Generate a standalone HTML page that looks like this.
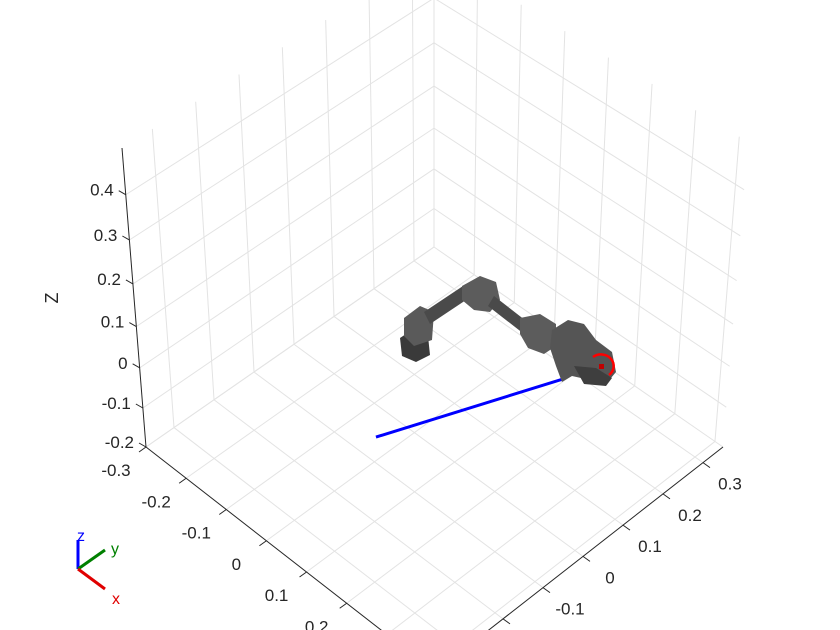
<!DOCTYPE html>
<html><head><meta charset="utf-8"><style>
html,body{margin:0;padding:0;background:#fff;width:840px;height:630px;overflow:hidden;}
svg{display:block;font-family:"Liberation Sans",Arial,sans-serif;overflow:hidden;}
</style></head><body>
<svg id="chart" width="840" height="630" viewBox="0 0 840 630" xmlns="http://www.w3.org/2000/svg">
<g id="grid"></g>
<g id="axes"></g>
<g id="traj"></g>
<g id="robot">
  <path d="M400 338 L412 330 L428 336 L430 355 L416 362 L402 356 Z" fill="#3a3a3a"/>
  <path d="M404 318 L420 306 L434 312 L432 340 L414 346 L404 336 Z" fill="#5a5a5a"/>
  <path d="M424 312 L466 284 L472 296 L430 324 Z" fill="#4a4a4a"/>
  <path d="M462 286 L480 276 L496 282 L500 300 L490 312 L474 310 L462 300 Z" fill="#5c5c5c"/>
  <path d="M494 296 L530 324 L524 334 L488 306 Z" fill="#4a4a4a"/>
  <path d="M520 318 L540 314 L556 324 L556 346 L544 354 L528 348 L520 334 Z" fill="#5c5c5c"/>
  <path d="M552 330 L568 320 L584 324 L596 340 L612 352 L616 372 L606 384 L590 380 L572 376 L562 382 L556 366 L550 348 Z" fill="#555"/>
  <path d="M574 366 L596 368 L612 378 L606 386 L584 384 Z" fill="#3e3e3e"/>
  <path d="M593 357 A12 11 0 1 1 609 375" fill="none" stroke="#f00" stroke-width="2.5"/>
  <rect x="599" y="364" width="5" height="5" fill="#c00000"/>
</g>
<g id="triad">
  <line x1="78" y1="569" x2="78" y2="540" stroke="#0000ff" stroke-width="3"/>
  <line x1="78" y1="569" x2="105" y2="550" stroke="#008000" stroke-width="3"/>
  <line x1="78" y1="569" x2="105" y2="589" stroke="#e00000" stroke-width="3"/>
  <text x="77" y="541" fill="#0000ff" font-size="16">z</text>
  <text x="111" y="554" fill="#008000" font-size="16">y</text>
  <text x="112" y="604" fill="#e00000" font-size="16">x</text>
</g>
<text transform="translate(58,298) rotate(-90)" text-anchor="middle" font-size="18" fill="#262626">Z</text>
<script>
var xTicks=[-0.3,-0.2,-0.1,0,0.1,0.2,0.3,0.4];
var yTicks=[-0.3,-0.2,-0.1,0,0.1,0.2,0.3];
var zTicks=[-0.2,-0.1,0,0.1,0.2,0.3,0.4];
var xTickLabels=["-0.3","-0.2","-0.1","0","0.1","0.2","0.3","0.4"];
var yTickLabels=["-0.3","-0.2","-0.1","0","0.1","0.2","0.3"];
var zTickLabels=["-0.2","-0.1","0","0.1","0.2","0.3","0.4"];
var trajX=[-0.04,0.095];
var trajY=[-0.056,0.274];
var trajZ=[-0.2,-0.2];
var XL=[-0.3,0.42],YL=[-0.37,0.35],ZL=[-0.2,0.5];
var B={"00":[146,447],"10":[435,672],"01":[434,247],"11":[723,447]};
var T={"00":[122,148],"10":[436,370],"01":[434,-48],"11":[748,142]};
function lerp(a,b,t){return [a[0]+(b[0]-a[0])*t,a[1]+(b[1]-a[1])*t];}
function P(x,y,z){
  var u=(x-XL[0])/(XL[1]-XL[0]),v=(y-YL[0])/(YL[1]-YL[0]);
  var s=(z-ZL[0])/(ZL[1]-ZL[0]);s=s*0.9/(1-0.1*s);
  function q(C){return lerp(lerp(C["00"],C["10"],u),lerp(C["01"],C["11"],u),v);}
  return lerp(q(B),q(T),s);
}
var NS="http://www.w3.org/2000/svg";
function ln(g,a,b,col,w,name){var e=document.createElementNS(NS,"line");
e.setAttribute("x1",a[0]);e.setAttribute("y1",a[1]);e.setAttribute("x2",b[0]);e.setAttribute("y2",b[1]);
e.setAttribute("stroke",col);e.setAttribute("stroke-width",w);


g.appendChild(e);return e;}
function tx(g,p,s,anchor,name){var e=document.createElementNS(NS,"text");
e.setAttribute("x",p[0]);e.setAttribute("y",p[1]);e.setAttribute("text-anchor",anchor);
e.setAttribute("font-size","17");e.setAttribute("fill","#262626");e.textContent=s;


g.appendChild(e);}
var G=document.getElementById("grid"),A=document.getElementById("axes"),GC="#e3e3e3";
xTicks.forEach(function(x){
  ln(G,P(x,YL[0],ZL[0]),P(x,YL[1],ZL[0]),GC,1,"floor-grid-x");
  ln(G,P(x,YL[1],ZL[0]),P(x,YL[1],ZL[1]),GC,1,"back-wall-grid-x");
});
yTicks.forEach(function(y){
  ln(G,P(XL[0],y,ZL[0]),P(XL[1],y,ZL[0]),GC,1,"floor-grid-y");
  ln(G,P(XL[0],y,ZL[0]),P(XL[0],y,ZL[1]),GC,1,"side-wall-grid-y");
});
zTicks.forEach(function(z){
  ln(G,P(XL[0],YL[0],z),P(XL[0],YL[1],z),GC,1,"side-wall-grid-z");
  ln(G,P(XL[0],YL[1],z),P(XL[1],YL[1],z),GC,1,"back-wall-grid-z");
});
ln(A,P(XL[0],YL[0],ZL[0]),P(XL[1],YL[0],ZL[0]),"#262626",1,"x-axis-line");
ln(A,P(XL[1],YL[0],ZL[0]),P(XL[1],YL[1],ZL[0]),"#262626",1,"y-axis-line");
ln(A,P(XL[0],YL[0],ZL[0]),P(XL[0],YL[0],ZL[1]),"#262626",1,"z-axis-line");
xTicks.forEach(function(x,i){var p=P(x,YL[0],ZL[0]);
  ln(A,p,[p[0]-7,p[1]+5],"#262626",1,"x-tick");
  tx(A,[p[0]-30,p[1]+29],xTickLabels[i],"middle","x-tick-label");});
yTicks.forEach(function(y,i){var p=P(XL[1],y,ZL[0]);
  ln(A,p,[p[0]+7,p[1]+5],"#262626",1,"y-tick");
  tx(A,[p[0]+27,p[1]+27],yTickLabels[i],"middle","y-tick-label");});
zTicks.forEach(function(z,i){var p=P(XL[0],YL[0],z);
  ln(A,p,[p[0]-7,p[1]-4],"#262626",1,"z-tick");
  tx(A,[p[0]-12,p[1]+1],zTickLabels[i],"end","z-tick-label");});
var a=P(trajX[0],trajY[0],trajZ[0]),b=P(trajX[1],trajY[1],trajZ[1]);
ln(document.getElementById("traj"),a,b,"#0000ff",3,"trajectory-line");
</script>
</svg>
</body></html>
